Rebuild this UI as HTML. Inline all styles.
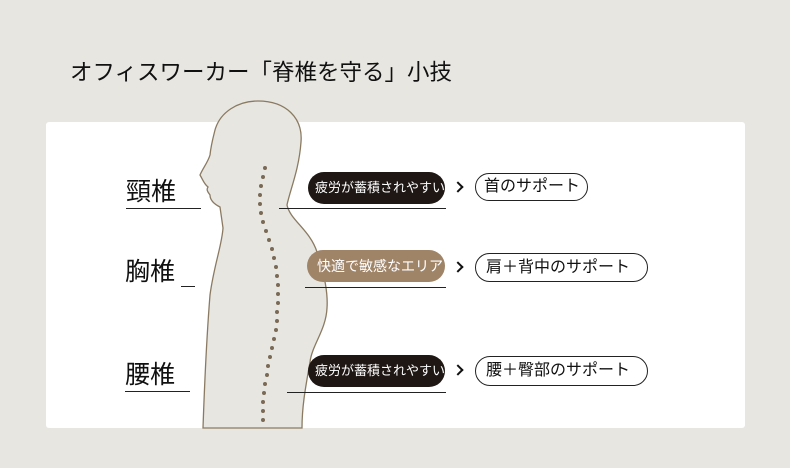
<!DOCTYPE html>
<html><head><meta charset="utf-8"><style>
body{margin:0;width:790px;height:468px;background:#e8e6e1;position:relative;overflow:hidden;font-family:"Liberation Sans","Noto Sans CJK JP",sans-serif;}
.a{position:absolute;white-space:nowrap}
.card{left:46px;top:122px;width:699px;height:306px;background:#fff;border-radius:3px}
.lbl{font-size:25px;color:#111}
.ln{position:absolute;height:1px;background:#222}
.pill{position:absolute;height:32px;border-radius:16px;color:#fff;font-size:13px;line-height:32px;padding-left:7px;box-sizing:border-box;overflow:hidden}
.op{position:absolute;border:1.5px solid #222;border-radius:15px;font-size:16px;color:#111;box-sizing:border-box;padding-left:10px}
.ar{position:absolute;width:6px;height:6px;border-top:2.5px solid #111;border-right:2.5px solid #111;transform:rotate(45deg)}
</style></head><body>
<div class="a" style="left:70px;top:55px;font-size:22.5px;color:#111">オフィスワーカー「脊椎を守る」小技</div>
<div class="a card"></div>
<svg class="a" style="left:0;top:0" width="790" height="468">
<path d="M203,428 C205,370 208,320 210,295 C214,265 222,245 223,228 L220,207 C214,204 210,200 210,195 C208,192 206,190 208,187 C204,184 203,180 200,175 C203,168 208,162 210,155 C211,145 213,138 215,130 C220,112 238,101 258,101 C286,101 303,118 301,142 C299,170 290,190 287,205 C290,220 310,230 317,252 C325,275 328,295 327,308 C326,330 312,345 310,362 C306,385 302,405 302,428 Z" fill="#e8e6e1" stroke="#8a7a62" stroke-width="1.3"/>
<g fill="#7a6a55">
<circle cx="265" cy="168" r="2"/><circle cx="263" cy="177" r="2"/><circle cx="261" cy="186" r="2"/><circle cx="260" cy="195" r="2"/><circle cx="260" cy="204" r="2"/><circle cx="261" cy="213" r="2"/><circle cx="263" cy="222" r="2"/><circle cx="266" cy="231" r="2"/><circle cx="269" cy="240" r="2"/><circle cx="272" cy="249" r="2"/><circle cx="274" cy="258" r="2"/><circle cx="276" cy="267" r="2"/><circle cx="277" cy="276" r="2"/><circle cx="278" cy="285" r="2"/><circle cx="278" cy="294" r="2"/><circle cx="278" cy="303" r="2"/><circle cx="277" cy="312" r="2"/><circle cx="277" cy="321" r="2"/><circle cx="276" cy="330" r="2"/><circle cx="274" cy="339" r="2"/><circle cx="272" cy="348" r="2"/><circle cx="270" cy="357" r="2"/><circle cx="268" cy="366" r="2"/><circle cx="267" cy="375" r="2"/><circle cx="265" cy="384" r="2"/><circle cx="264" cy="393" r="2"/><circle cx="263" cy="402" r="2"/><circle cx="263" cy="411" r="2"/><circle cx="263" cy="420" r="2"/>
</g></svg>
<div class="a lbl" style="left:126px;top:172px">頸椎</div><div class="ln" style="left:126px;top:208px;width:75px"></div>
<div class="a lbl" style="left:125px;top:252px">胸椎</div><div class="ln" style="left:181px;top:286px;width:14px"></div>
<div class="a lbl" style="left:125px;top:355px">腰椎</div><div class="ln" style="left:125px;top:391px;width:65px"></div>
<div class="pill" style="left:308px;top:172px;width:137px;background:#1e1714">疲労が蓄積されやすいエリア</div>
<div class="ln" style="left:279px;top:208px;width:167px"></div>
<div class="pill" style="left:307px;top:250px;width:138px;background:#a08468;font-size:14px;padding-left:10px">快適で敏感なエリア</div>
<div class="ln" style="left:305px;top:287px;width:141px"></div>
<div class="pill" style="left:308px;top:355px;width:137px;background:#1e1714">疲労が蓄積されやすいエリア</div>
<div class="ln" style="left:287px;top:392px;width:159px"></div>
<div class="ar" style="left:454px;top:183px"></div>
<div class="ar" style="left:454px;top:263px"></div>
<div class="ar" style="left:454px;top:366px"></div>
<div class="op" style="left:475px;top:173px;width:113px;height:28px;line-height:25px;padding-left:8px">首のサポート</div>
<div class="op" style="left:475px;top:253px;width:173px;height:29px;line-height:27px">肩＋背中のサポート</div>
<div class="op" style="left:475px;top:356px;width:173px;height:30px;line-height:28px">腰＋臀部のサポート</div>
</body></html>
